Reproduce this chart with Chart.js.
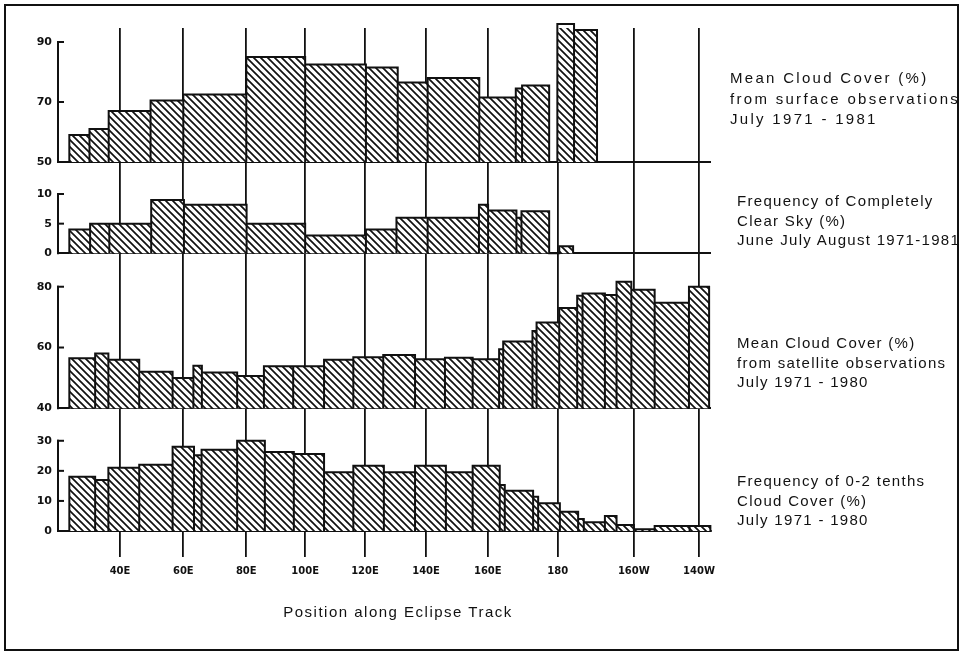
<!DOCTYPE html>
<html><head><meta charset="utf-8">
<script src="https://cdn.jsdelivr.net/npm/chart.js@4.4.1/dist/chart.umd.min.js"></script>
<style>
html,body{margin:0;padding:0;background:#fff;}
#wrap{position:relative;width:963px;height:654px;overflow:hidden;background:#fff;}
#c{position:absolute;left:0;top:0;}
#frame{position:absolute;left:4px;top:4px;width:951px;height:643px;border:2px solid #111;pointer-events:none;}
.lbl{position:absolute;font-family:"Liberation Sans",Arial,sans-serif;font-size:15px;color:#111;line-height:19.5px;white-space:nowrap;letter-spacing:1.3px;}
#xtitle{position:absolute;left:398px;top:603px;transform:translateX(-50%);font-family:"Liberation Sans",Arial,sans-serif;font-size:15px;color:#111;letter-spacing:1.5px;white-space:nowrap;}
</style></head><body>
<div id="wrap">
<canvas id="c" width="963" height="654"></canvas>
<div id="frame"></div>
<div class="lbl" style="left:730px;top:68px;line-height:20.5px;letter-spacing:2.3px">Mean Cloud Cover (%)<br>from surface observations<br>July 1971 - 1981</div>
<div class="lbl" style="left:737px;top:191px;">Frequency of Completely<br>Clear Sky (%)<br>June July August 1971-1981</div>
<div class="lbl" style="left:737px;top:333px;">Mean Cloud Cover (%)<br>from satellite observations<br>July 1971 - 1980</div>
<div class="lbl" style="left:737px;top:471px;">Frequency of 0-2 tenths<br>Cloud Cover (%)<br>July 1971 - 1980</div>
<div id="xtitle">Position along Eclipse Track</div>
</div>
<script>
// x axis: position along the eclipse track (track units), labelled by longitude
const tickLabels = ['40E','60E','80E','100E','120E','140E','160E','180','160W','140W'];
const tickPos    = [40, 60.1, 80.1, 98.8, 117.8, 137.2, 156.8, 179.0, 203.2, 223.9];
const trackMin = 20.3, trackMax = 227.7;

// Panel 1: Mean cloud cover (%) from surface observations, July 1971-1981 (null = no data)
const p1Edges  = [23.9, 30.3, 36.4, 49.7, 60.1, 80.1, 98.8, 118.1, 128.2, 137.7, 154.1, 165.7, 167.7, 176.3, 178.9, 184.2, 191.5];
const p1Values = [59, 61, 67, 70.5, 72.5, 85, 82.5, 81.5, 76.5, 78, 71.5, 74.5, 75.5, null, 96, 94];
const p1Ticks  = [50, 70, 90];

// Panel 2: Frequency of completely clear sky (%), JJA 1971-1981
const p2Edges  = [23.9, 30.5, 36.6, 49.9, 60.3, 80.2, 98.8, 118.1, 127.8, 137.7, 154.0, 156.9, 165.9, 167.5, 176.3, 179.5, 183.9];
const p2Values = [4, 5, 5, 9, 8.2, 5, 3, 4, 6, 6, 8.2, 7.2, 6, 7.1, null, 1.2];
const p2Ticks  = [0, 5, 10];

// Panel 3: Mean cloud cover (%) from satellite observations, July 1971-1980
const p3Edges  = [23.9, 32.1, 36.3, 46.1, 56.7, 63.3, 66.0, 77.2, 85.7, 95.0, 104.8, 114.1, 123.6, 133.7, 143.2, 152.0, 160.4, 161.7, 171.0, 172.3, 179.5, 185.2, 186.9, 194.0, 197.7, 202.4, 209.8, 220.7, 227.1];
const p3Values = [56.5, 58, 56, 52, 50, 54, 51.8, 50.6, 53.8, 53.8, 56, 56.8, 57.5, 56.1, 56.6, 56.1, 59.4, 62, 65.4, 68.2, 73, 77, 77.8, 77.3, 81.6, 79, 74.7, 80];
const p3Ticks  = [40, 60, 80];

// Panel 4: Frequency of 0-2 tenths cloud cover (%), July 1971-1980
const p4Edges  = [23.9, 32.1, 36.3, 46.1, 56.7, 63.5, 65.9, 77.2, 86.0, 95.2, 104.8, 114.1, 123.8, 133.7, 143.5, 152.0, 160.6, 162.2, 171.2, 172.8, 179.7, 185.5, 187.3, 194.0, 197.7, 203.2, 209.8, 220.9, 227.5];
const p4Values = [18, 17, 21, 22, 28, 25.2, 27, 30, 26.3, 25.6, 19.5, 21.7, 19.5, 21.7, 19.5, 21.7, 15.3, 13.4, 11.4, 9.2, 6.4, 4, 2.9, 5, 2, 0.6, 1.7, 1.7];
const p4Ticks  = [0, 10, 20, 30];

// panel value ranges (axis min / max) and relative heights
const panelMin = [50, 0, 40, 0];
const panelMax = [94.67, 15.4, 91.0, 40.8];
const panelWeight = [134, 91.3, 155, 122.7];

const INK = '#111';

function makeHatch() {
  const s = 7;
  const c = document.createElement('canvas'); c.width = s; c.height = s;
  const g = c.getContext('2d');
  g.fillStyle = '#fff'; g.fillRect(0, 0, s, s);
  g.strokeStyle = INK; g.lineWidth = 1.7;
  g.beginPath();
  g.moveTo(-1, -1); g.lineTo(s + 1, s + 1);
  g.moveTo(-1, s - 1); g.lineTo(1, s + 1);
  g.moveTo(s - 1, -1); g.lineTo(s + 1, 1);
  g.stroke();
  return g.createPattern(c, 'repeat');
}
const hatch = makeHatch();

function histPoints(edges, values, base) {
  const pts = [];
  values.forEach((v, i) => {
    const h = (v === null) ? base : v;
    pts.push({x: edges[i], y: base}, {x: edges[i], y: h}, {x: edges[i + 1], y: h}, {x: edges[i + 1], y: base});
  });
  return pts;
}

function histDataset(edges, values, base, axisId) {
  return {
    data: histPoints(edges, values, base),
    yAxisID: axisId,
    borderColor: INK, borderWidth: 2, borderJoinStyle: 'miter',
    backgroundColor: hatch, fill: 'start',
    pointRadius: 0, tension: 0, clip: false
  };
}

function yAxis(idx, ticks) {
  const min = panelMin[idx];
  return {
    type: 'linear', position: 'left', stack: 'panels', stackWeight: panelWeight[idx], weight: 4 - idx,
    min: min, max: panelMax[idx], offset: false,
    afterBuildTicks: s => { s.ticks = ticks.map(v => ({value: v})); },
    afterFit: s => { s.width = 53; },
    grid: {
      drawOnChartArea: true, drawTicks: false, lineWidth: 2,
      color: c => (c.tick && c.tick.value === min) ? INK : 'rgba(0,0,0,0)'
    },
    border: {display: false},
    ticks: {color: INK, padding: 6, font: {family: '"DejaVu Sans", sans-serif', size: 11, weight: 'bold'}}
  };
}

const bracketPlugin = {
  id: 'brackets',
  afterDraw(chart) {
    const ctx = chart.ctx;
    const x = chart.chartArea.left;
    ctx.save();
    ctx.strokeStyle = INK; ctx.lineWidth = 2; ctx.lineCap = 'square';
    ['y1', 'y2', 'y3', 'y4'].forEach(id => {
      const s = chart.scales[id];
      const ys = s.ticks.map(t => s.getPixelForValue(t.value));
      const top = Math.min(...ys), bot = Math.max(...ys);
      ctx.beginPath(); ctx.moveTo(x, bot); ctx.lineTo(x, top); ctx.stroke();
      ys.forEach(y => {
        if (y !== bot) { ctx.beginPath(); ctx.moveTo(x, y); ctx.lineTo(x + 5, y); ctx.stroke(); }
      });
    });
    ctx.restore();
  }
};

new Chart(document.getElementById('c'), {
  type: 'line',
  data: {
    datasets: [
      histDataset(p1Edges, p1Values, panelMin[0], 'y1'),
      histDataset(p2Edges, p2Values, panelMin[1], 'y2'),
      histDataset(p3Edges, p3Values, panelMin[2], 'y3'),
      histDataset(p4Edges, p4Values, panelMin[3], 'y4')
    ]
  },
  options: {
    responsive: false, animation: false, events: [],
    layout: {padding: {left: 5, right: 252, top: 28, bottom: 63}},
    plugins: {legend: {display: false}, tooltip: {enabled: false}},
    scales: {
      x: {
        type: 'linear', position: 'bottom', min: trackMin, max: trackMax,
        afterBuildTicks: s => { s.ticks = tickPos.map(v => ({value: v})); },
        afterFit: s => { s.height = 60; },
        grid: {color: INK, lineWidth: 1.8, tickLength: 26, drawOnChartArea: true, drawTicks: true},
        border: {display: true, color: INK, width: 2},
        ticks: {
          color: INK, padding: 8, maxRotation: 0, autoSkip: false,
          font: {family: '"DejaVu Sans", sans-serif', size: 10, weight: 'bold'},
          callback: (v, i) => tickLabels[i]
        }
      },
      y1: yAxis(0, p1Ticks),
      y2: yAxis(1, p2Ticks),
      y3: yAxis(2, p3Ticks),
      y4: yAxis(3, p4Ticks)
    }
  },
  plugins: [bracketPlugin]
});
</script>
</body></html>
